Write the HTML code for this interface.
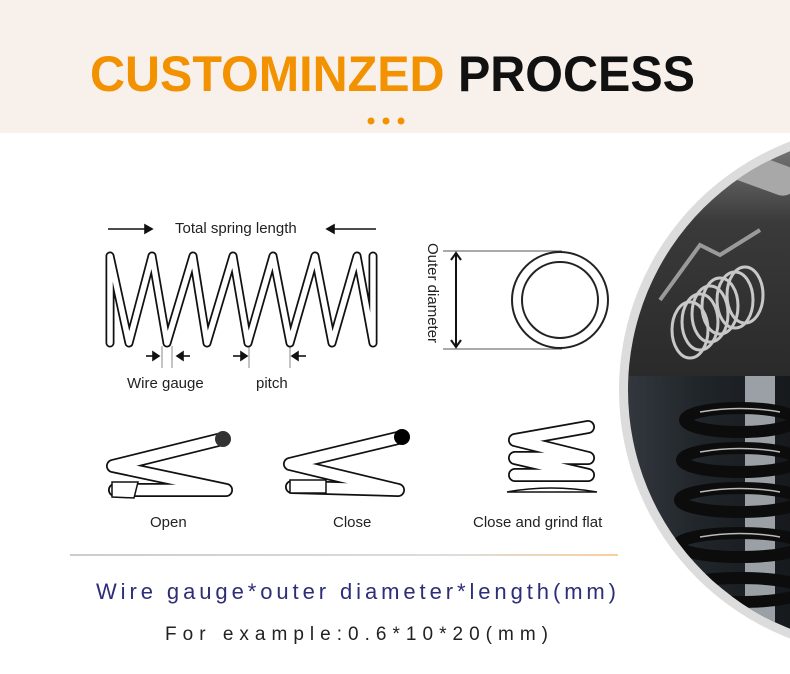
<!DOCTYPE html>
<html><head><meta charset="utf-8"><style>
html,body{margin:0;padding:0;background:#fff;}
svg{display:block;font-family:"Liberation Sans",sans-serif;}
</style></head><body>
<svg width="790" height="674" viewBox="0 0 790 674" xmlns="http://www.w3.org/2000/svg">
<defs>
<clipPath id="cc"><circle cx="885" cy="390" r="257"/></clipPath>
<linearGradient id="tg" x1="0" y1="0" x2="0" y2="1"><stop offset="0" stop-color="#8a8a8a"/><stop offset="0.4" stop-color="#3a3a3a"/><stop offset="1" stop-color="#2a2a2a"/></linearGradient>
<linearGradient id="bg2" x1="0" y1="0" x2="1" y2="0"><stop offset="0" stop-color="#3a3f45"/><stop offset="0.5" stop-color="#20252a"/><stop offset="1" stop-color="#15181b"/></linearGradient>
<linearGradient id="ln" gradientUnits="userSpaceOnUse" x1="70" y1="0" x2="618" y2="0"><stop offset="0" stop-color="#999"/><stop offset="0.7" stop-color="#bbb"/><stop offset="1" stop-color="#f0a040"/></linearGradient>
</defs>
<rect x="0" y="0" width="790" height="133" fill="#f8f0eb"/>
<text x="90" y="91" font-size="50" font-weight="bold" textLength="605" lengthAdjust="spacingAndGlyphs"><tspan fill="#f39200">CUSTOMINZED </tspan><tspan fill="#111">PROCESS</tspan></text>
<circle cx="371" cy="121" r="3.5" fill="#f39200"/><circle cx="386" cy="121" r="3.5" fill="#f39200"/><circle cx="401" cy="121" r="3.5" fill="#f39200"/>

<!-- photo circle -->
<circle cx="885" cy="390" r="266" fill="#dcdcdc"/>
<g clip-path="url(#cc)">
<rect x="600" y="120" width="200" height="256" fill="url(#tg)"/>
<rect x="600" y="376" width="200" height="300" fill="url(#bg2)"/>
<path d="M660 300 L700 245 L720 255 L760 230" stroke="#9a9a9a" stroke-width="4" fill="none"/>
<rect x="680" y="150" width="120" height="30" rx="14" fill="#a8a8a8" transform="rotate(20 740 165)"/>
<g fill="none" stroke="#c8c8c8" stroke-width="3">
<ellipse cx="690" cy="330" rx="18" ry="28"/><ellipse cx="700" cy="322" rx="18" ry="28"/><ellipse cx="710" cy="314" rx="18" ry="28"/><ellipse cx="720" cy="306" rx="18" ry="28"/><ellipse cx="735" cy="300" rx="18" ry="28"/><ellipse cx="745" cy="295" rx="18" ry="28"/>
</g>
<rect x="745" y="376" width="30" height="300" fill="#9aa0a5"/>
<g fill="none" stroke="#0c0c0c" stroke-width="12">
<ellipse cx="740" cy="420" rx="55" ry="12"/><ellipse cx="740" cy="460" rx="58" ry="12"/><ellipse cx="740" cy="500" rx="60" ry="12"/><ellipse cx="740" cy="545" rx="62" ry="12"/><ellipse cx="740" cy="590" rx="64" ry="12"/>
</g>
<g fill="none" stroke="#bbb" stroke-width="1.5">
<path d="M700 412 Q740 405 780 412"/><path d="M700 452 Q740 445 780 452"/><path d="M700 492 Q740 485 780 492"/><path d="M700 537 Q740 530 780 537"/>
</g>
</g>

<!-- main spring -->
<g font-size="15" fill="#222">
<text x="175" y="233">Total spring length</text>
<text x="127" y="388">Wire gauge</text>
<text x="256" y="388">pitch</text>
</g>
<g stroke="#111" stroke-width="1.6" fill="#111">
<line x1="108" y1="229" x2="148" y2="229"/><path d="M152 229 l-7 -4 v8z"/>
<line x1="332" y1="229" x2="376" y2="229"/><path d="M327 229 l7 -4 v8z"/>
<line x1="146" y1="356" x2="155" y2="356"/><path d="M159 356 l-6 -4 v8z"/>
<line x1="181" y1="356" x2="190" y2="356"/><path d="M177 356 l6 -4 v8z"/>
<line x1="233" y1="356" x2="243" y2="356"/><path d="M247 356 l-6 -4 v8z"/>
<line x1="296" y1="356" x2="306" y2="356"/><path d="M292 356 l6 -4 v8z"/>
</g>
<g stroke="#888" stroke-width="1"><line x1="162" y1="346" x2="162" y2="368"/><line x1="172" y1="346" x2="172" y2="368"/><line x1="249" y1="346" x2="249" y2="368"/><line x1="290" y1="346" x2="290" y2="368"/></g>
<g fill="none" stroke-linejoin="round" stroke-linecap="round">
<path d="M110 256 L110 343 M110 256 L129 343 L152 256 L167 343 L193 256 L207 343 L233 256 L248 343 L273 256 L290 343 L315 256 L332 343 L357 256 L373 343 L373 256" stroke="#111" stroke-width="9"/>
<path d="M110 256 L110 343 M110 256 L129 343 L152 256 L167 343 L193 256 L207 343 L233 256 L248 343 L273 256 L290 343 L315 256 L332 343 L357 256 L373 343 L373 256" stroke="#fff" stroke-width="5.5"/>
</g>

<!-- outer diameter -->
<text transform="translate(428,243) rotate(90)" font-size="15" fill="#222">Outer diameter</text>
<g stroke="#555" stroke-width="1"><line x1="443" y1="251" x2="562" y2="251"/><line x1="443" y1="349" x2="562" y2="349"/></g>
<g stroke="#111" stroke-width="2" fill="none"><line x1="456" y1="254" x2="456" y2="346"/><path d="M451 260 L456 253 L461 260 M451 340 L456 347 L461 340"/></g>
<circle cx="560" cy="300" r="48" fill="none" stroke="#222" stroke-width="2"/>
<circle cx="560" cy="300" r="38" fill="none" stroke="#222" stroke-width="2"/>

<!-- end types -->
<g fill="none" stroke-linecap="round" stroke-linejoin="round">
<g stroke="#111" stroke-width="14">
<path d="M113 466 L222 439 M113 466 L226 490 M115 490 L226 490"/>
<path d="M290 464 L402 437 M290 464 L398 490 M292 487 L398 490"/>
<path d="M515 440 L588 427 M515 440 L588 458 M515 458 L588 458 M515 458 L588 475 M515 475 L588 475"/>
</g>
<g stroke="#fff" stroke-width="10.5">
<path d="M113 466 L222 439 M113 466 L226 490 M115 490 L226 490"/>
<path d="M290 464 L402 437 M290 464 L398 490 M292 487 L398 490"/>
<path d="M515 440 L588 427 M515 440 L588 458 M515 458 L588 458 M515 458 L588 475 M515 475 L588 475"/>
</g>
</g>
<path d="M112 482 L138 482 L134 498 L112 497 Z" fill="#fff" stroke="#111" stroke-width="1.5"/>
<path d="M290 480 L326 480 L326 493 L290 493 Z" fill="#fff" stroke="#111" stroke-width="1.5"/>
<path d="M507 492 Q550 484 597 492 Z" fill="#fff" stroke="#111" stroke-width="1.5"/>
<circle cx="223" cy="439" r="8" fill="#333"/>
<circle cx="402" cy="437" r="8" fill="#000"/>
<g font-size="15" fill="#222">
<text x="150" y="527">Open</text>
<text x="333" y="527">Close</text>
<text x="473" y="527">Close and grind flat</text>
</g>

<rect x="70" y="554.5" width="548" height="1" fill="url(#ln)"/>
<text x="96" y="599" font-size="22" fill="#2d2d78" textLength="520" lengthAdjust="spacing">Wire gauge*outer diameter*length(mm)</text>
<text x="165" y="640" font-size="19" fill="#222" textLength="383" lengthAdjust="spacing">For example:0.6*10*20(mm)</text>
</svg>
</body></html>
